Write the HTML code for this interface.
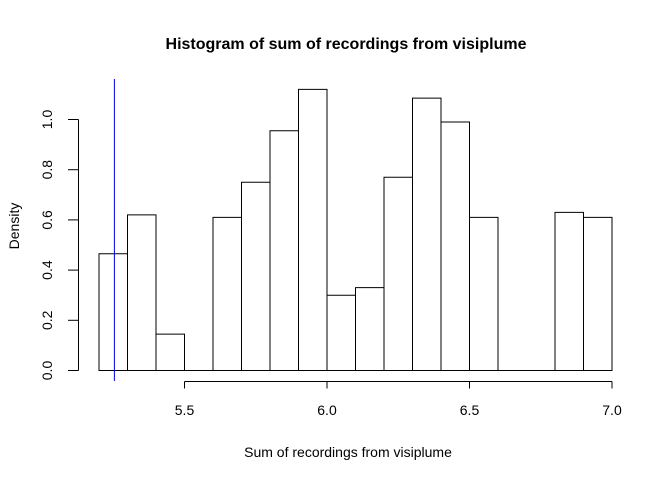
<!DOCTYPE html>
<html><head><style>
body{margin:0;background:#fff;}
svg text{font-family:"Liberation Sans",Arial,sans-serif;}
</style></head><body>
<svg id="chart" width="672" height="480">
<text x="346" y="49" text-anchor="middle" font-weight="bold" font-size="16">Histogram of sum of recordings from visiplume</text>
<text x="348" y="457" text-anchor="middle" font-size="14">Sum of recordings from visiplume</text>
<text transform="translate(19,226) rotate(-90)" text-anchor="middle" font-size="14">Density</text>
<g id="bars"></g><g id="axes"></g>
</svg>
<script>
const breaks=[5.2,5.3,5.4,5.5,5.6,5.7,5.8,5.9,6.0,6.1,6.2,6.3,6.4,6.5,6.6,6.7,6.8,6.9,7.0];
const densities=[0.465,0.62,0.145,0,0.61,0.75,0.955,1.12,0.30,0.33,0.77,1.085,0.99,0.61,0,0,0.63,0.61];
const xTicks=[5.5,6.0,6.5,7.0];
const xTickLabels=["5.5","6.0","6.5","7.0"];
const yTicks=[0,0.2,0.4,0.6,0.8,1.0];
const yTickLabels=["0.0","0.2","0.4","0.6","0.8","1.0"];
const refLine=5.254;
const NS="http://www.w3.org/2000/svg";
const xs=v=>99+(v-5.2)*285;
const ys=v=>370.5-v*251;
function mk(t,a,p){const e=document.createElementNS(NS,t);for(const k in a)e.setAttribute(k,a[k]);p.appendChild(e);return e;}
const bars=document.getElementById('bars'),axes=document.getElementById('axes');
densities.forEach((d,i)=>{
 const x0=xs(breaks[i]),x1=xs(breaks[i+1]),y0=ys(0),y1=ys(d);
 const r=mk('path',{d:`M${x0},${y0}L${x0},${y1}L${x1},${y1}L${x1},${y0}Z`,fill:'none',stroke:'#000','stroke-width':1},bars);
 
 
});
const vl=mk('line',{x1:xs(refLine),x2:xs(refLine),y1:79,y2:381,stroke:'#0000ee','stroke-width':1},axes);


const xa=mk('line',{x1:xs(xTicks[0]),x2:xs(xTicks[xTicks.length-1]),y1:381.5,y2:381.5,stroke:'#000'},axes);


xTicks.forEach((v,i)=>{
 mk('line',{x1:xs(v),x2:xs(v),y1:381.5,y2:388.5,stroke:'#000'},axes);
 const t=mk('text',{x:xs(v),y:415,'text-anchor':'middle','font-size':14},axes);t.textContent=xTickLabels[i];
 
 
});
const ya=mk('line',{x1:78.5,x2:78.5,y1:ys(yTicks[0]),y2:ys(yTicks[yTicks.length-1]),stroke:'#000'},axes);


yTicks.forEach((v,i)=>{
 mk('line',{x1:68,x2:78.5,y1:ys(v),y2:ys(v),stroke:'#000'},axes);
 const t=mk('text',{'text-anchor':'middle','font-size':14,transform:`translate(52,${ys(v)}) rotate(-90)`},axes);t.textContent=yTickLabels[i];
 
 
});
</script>
</body></html>
